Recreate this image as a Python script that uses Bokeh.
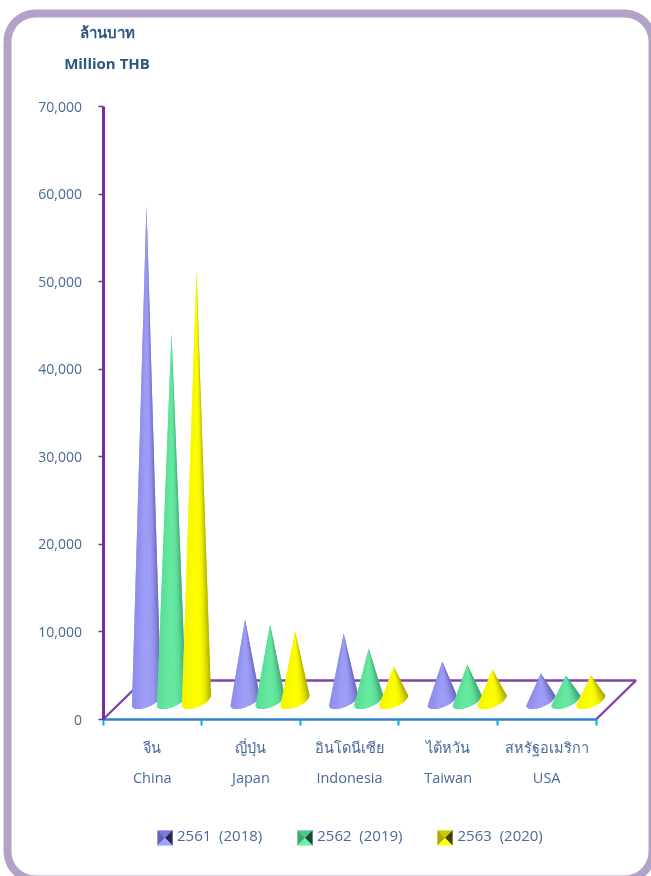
import numpy as np
from bokeh.plotting import figure
from bokeh.models import (ColumnDataSource, FixedTicker, LinearAxis, Range1d, Legend, LegendItem,
                          NumeralTickFormatter, Label)
from bokeh.embed import file_html
from bokeh.resources import INLINE

categories_th = ["จีน", "ญี่ปุ่น", "อินโดนีเซีย", "ไต้หวัน", "สหรัฐอเมริกา"]
categories_en = ["China", "Japan", "Indonesia", "Taiwan", "USA"]
series_names = ["2561\u00a0\u00a0(2018)", "2562\u00a0\u00a0(2019)", "2563\u00a0\u00a0(2020)"]
v2018 = [56500, 9250, 7650, 4450, 3080]
v2019 = [41900, 8680, 5940, 4110, 2850]
v2020 = [49100, 7880, 3880, 3540, 2850]
y_ticks = [0, 10000, 20000, 30000, 40000, 50000, 60000, 70000]

W, H = 651, 876
X0, Y0 = 102.5, 719.0
UX = 98.6
UY = 613.0 / 70000
TXT = "#4a6a9a"
HEAD = "#2f5585"
FONT = "Open Sans"

def dx(px): return (px - X0) / UX
def dy(py): return (Y0 - py) / UY

p = figure(width=W, height=H, output_backend="svg", toolbar_location=None,
           x_range=Range1d(dx(0), dx(W)), y_range=Range1d(dy(H), dy(0)),
           min_border=0, min_border_left=0, min_border_right=0, min_border_top=0, min_border_bottom=0,
           x_axis_location=None, y_axis_location=None)
p.styles = {"position": "fixed", "left": "0", "top": "0"}
p.grid.visible = False
p.outline_line_color = None
p.background_fill_color = "white"

# rounded border
r, l, t, rr, b = 28, 7, 13, 652, 879
a = np.linspace(0, np.pi / 2, 16)
bx = np.r_[l + r - r*np.cos(a), rr - r + r*np.sin(a), rr - r + r*np.cos(a), l + r - r*np.sin(a), l]
by = np.r_[t + r - r*np.sin(a), t + r - r*np.cos(a), b - r + r*np.sin(a), b - r + r*np.cos(a), t + r]
p.line(dx(bx), dy(by), line_color="#b3a2c7", line_width=8)

# floor
DEPTH_X, DEPTH_Y = 40, 39
X_END = 5.0
fx = [0, DEPTH_X / UX, X_END + DEPTH_X / UX, X_END]
fy = [0, DEPTH_Y / UY, DEPTH_Y / UY, 0]
p.line(fx, fy, line_color="#7030a0", line_width=2.4, line_alpha=0.9)

# cones
palette = [((140, 140, 232), (160, 160, 250), (92, 92, 172)),
           ((88, 222, 150), (104, 234, 162), (52, 150, 110)),
           ((245, 245, 0), (255, 255, 0), (150, 150, 0))]
A, TILT, BF = 14.5, 5.0, 7.0
BASE = 19.0 / UY
SLOT0, SLOT = 0.441, 0.2535

def shade(c, u):
    left, mid, right = c
    pk = 0.42
    if u < pk:
        w = u / pk
        return tuple(int(left[i] + (mid[i] - left[i]) * w) for i in range(3))
    w = ((u - pk) / (1 - pk)) ** 3.5
    return tuple(int(mid[i] + (right[i] - mid[i]) * w) for i in range(3))

for j, vals in enumerate([v2018, v2019, v2020]):
    xs, ys, cols = [], [], []
    n = 26
    ts = np.linspace(0, np.pi, n + 1)
    full = np.linspace(0, np.pi, 40)
    for i, v in enumerate(vals):
        cx = i + SLOT0 + j * SLOT
        tipy = BASE + v
        # whole cone in one colour under the shaded strips
        xs.append([cx] + list(cx - A * np.cos(full) / UX))
        ys.append([tipy] + list(BASE + (-TILT * np.cos(full) - BF * np.sin(full)) / UY))
        cols.append("#%02x%02x%02x" % tuple((palette[j][0][q] + palette[j][1][q]) // 2 for q in range(3)))
        for k in range(n):
            t0, t1 = ts[k], ts[k + 1]
            u = (1 - np.cos((t0 + t1) / 2)) / 2
            xs.append([cx, cx - A * np.cos(t0) / UX, cx - A * np.cos(t1) / UX])
            ys.append([tipy, BASE + (-TILT * np.cos(t0) - BF * np.sin(t0)) / UY,
                       BASE + (-TILT * np.cos(t1) - BF * np.sin(t1)) / UY])
            cols.append("#%02x%02x%02x" % shade(palette[j], u))
    src = ColumnDataSource(dict(xs=xs, ys=ys, c=cols))
    p.patches("xs", "ys", source=src, fill_color="c", line_color=None)

# axes
yax = LinearAxis(fixed_location=0, bounds=(0, 70000), ticker=FixedTicker(ticks=y_ticks),
                 formatter=NumeralTickFormatter(format="0,0"))
yax.axis_line_color = "#7030a0"; yax.axis_line_width = 3
yax.major_tick_line_color = "#7030a0"; yax.major_tick_line_width = 1.5
yax.major_tick_out = 5; yax.major_tick_in = 0; yax.minor_tick_line_color = None
yax.major_label_text_color = TXT; yax.major_label_text_font = FONT
yax.major_label_text_font_size = "14px"; yax.major_label_standoff = 16
p.add_layout(yax, "left")

mids = [0.5, 1.5, 2.5, 3.5, 4.5]
edges = [0, 1, 2, 3, 4, 5]
xax = LinearAxis(fixed_location=0, bounds=(0, 5), ticker=FixedTicker(ticks=mids, minor_ticks=edges),
                 major_label_overrides={m: s for m, s in zip(mids, categories_th)})
xax.axis_line_color = "#2e80cc"; xax.axis_line_width = 2.5
xax.major_tick_line_color = None; xax.major_tick_out = 0; xax.major_tick_in = 0
xax.minor_tick_line_color = "#00aeef"; xax.minor_tick_line_width = 2
xax.minor_tick_out = 6; xax.minor_tick_in = 0
xax.major_label_text_color = TXT; xax.major_label_text_font = FONT
xax.major_label_text_font_size = "14.5px"; xax.major_label_standoff = 12
p.add_layout(xax, "below")

ax = LinearAxis(fixed_location=0, ticker=FixedTicker(ticks=mids),
                major_label_overrides={m: s for m, s in zip(mids, categories_en)})
ax.axis_line_color = None; ax.major_tick_line_color = None; ax.minor_tick_line_color = None
ax.major_tick_out = 0; ax.major_tick_in = 0
ax.major_label_text_color = TXT; ax.major_label_text_font = FONT
ax.major_label_text_font_size = "14.5px"; ax.major_label_standoff = 48
p.add_layout(ax, "below")

# headings
for txt, y in (("ล้านบาท", 31.5), ("Million THB", 62)):
    p.add_layout(Label(x=dx(106.5), y=dy(y), text=txt, text_align="center", text_baseline="middle",
                       text_color=HEAD, text_font=FONT, text_font_size="15px", text_font_style="bold"))

# bevelled legend keys, drawn from four shaded triangles: top, left, right, bottom
bevel = [("#7a7ade", "#6262bc", "#26264e", "#a2a2ff"),
         ("#4cc888", "#3ca870", "#164c32", "#70eea6"),
         ("#cccc00", "#aaaa00", "#404000", "#ffff10")]
for j, sx in enumerate((157, 297, 437)):
    sy, s = 830, 15
    cxp, cyp = sx + s / 2, sy + s / 2
    corners = [(sx, sy), (sx + s, sy), (sx + s, sy + s), (sx, sy + s)]
    tri = [(0, 1), (3, 0), (1, 2), (2, 3)]
    cols = list(bevel[j])
    txs = [[dx(cxp), dx(corners[m][0]), dx(corners[n][0])] for m, n in tri]
    tys = [[dy(cyp), dy(corners[m][1]), dy(corners[n][1])] for m, n in tri]
    p.patches(txs, tys, fill_color=cols, line_color=cols, line_width=0.3)

# legend: labels only, its keys are the bevels above
key_colors = ["#9999ff", "#66ee99", "#ffff00"]
items = []
for j in range(3):
    k = p.patches([[]], [[]], fill_color=key_colors[j], fill_alpha=0, line_alpha=0)
    items.append(LegendItem(label=series_names[j], renderers=[k]))
leg = Legend(items=items, orientation="horizontal", location=(157, 31),
             background_fill_alpha=0, border_line_color=None, glyph_width=15, glyph_height=15,
             label_standoff=5, spacing=35, padding=0, margin=0,
             label_text_color=TXT, label_text_font=FONT, label_text_font_size="15px")
p.add_layout(leg, "center")

open("out.html", "w").write(file_html(p, INLINE))
